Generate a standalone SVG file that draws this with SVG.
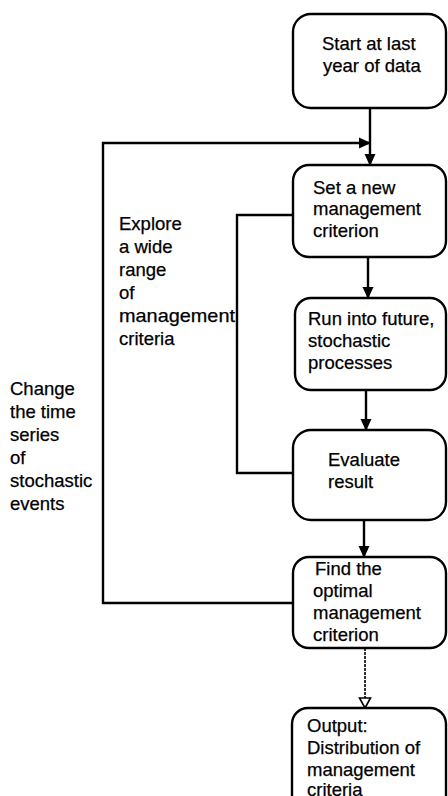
<svg xmlns="http://www.w3.org/2000/svg" width="448" height="796" viewBox="0 0 448 796">
  <style>
    .box { fill: #fff; stroke: #000; stroke-width: 2.4; }
    .line { fill: none; stroke: #000; stroke-width: 2.4; }
    .thin { fill: none; stroke: #000; stroke-width: 1.6; stroke-dasharray: 3 1; }
    text { font-family: "Liberation Sans", Arial, sans-serif; font-size: 18.5px; fill: #000; stroke: #000; stroke-width: 0.25; }
  </style>
  <defs>
    <marker id="arrow" markerWidth="12" markerHeight="14" refX="11" refY="7" orient="auto" markerUnits="userSpaceOnUse">
      <path d="M0,1.5 L12,7 L0,12.5 Z" fill="#000"/>
    </marker>
    <marker id="arrowOpen" markerWidth="12" markerHeight="14" refX="11" refY="7" orient="auto" markerUnits="userSpaceOnUse">
      <path d="M1,1.5 L11,7 L1,12.5 Z" fill="#fff" stroke="#000" stroke-width="1.6"/>
    </marker>
  </defs>

  <!-- connectors -->
  <g id="connectors">
    <line class="line" x1="370" y1="108" x2="370" y2="165" marker-end="url(#arrow)"/>
    <polyline class="line" points="293,603 103,603 103,143 370,143" marker-end="url(#arrow)"/>
    <line class="line" x1="368" y1="257" x2="368" y2="298" marker-end="url(#arrow)"/>
    <line class="line" x1="366" y1="390" x2="366" y2="430" marker-end="url(#arrow)"/>
    <polyline class="line" points="293,473 237,473 237,215 293,215"/>
    <line class="line" x1="364" y1="520" x2="364" y2="557" marker-end="url(#arrow)"/>
    <line class="thin" x1="365" y1="648" x2="365" y2="708" marker-end="url(#arrowOpen)"/>
  </g>

  <!-- nodes -->
  <g id="start">
    <rect class="box" x="293" y="14" width="153" height="94" rx="18"/>
    <text x="322" y="50">Start at last</text>
    <text x="323" y="72">year of data</text>
  </g>

  <g id="set-criterion">
    <rect class="box" x="293" y="165" width="153" height="92" rx="16"/>
    <text x="313" y="194">Set a new</text>
    <text x="313" y="215">management</text>
    <text x="313" y="237">criterion</text>
  </g>

  <g id="run-future">
    <rect class="box" x="295" y="298" width="151" height="92" rx="16"/>
    <text x="308" y="325">Run into future,</text>
    <text x="308" y="347">stochastic</text>
    <text x="308" y="369">processes</text>
  </g>

  <g id="evaluate">
    <rect class="box" x="293" y="430" width="153" height="90" rx="18"/>
    <text x="328" y="466">Evaluate</text>
    <text x="328" y="488">result</text>
  </g>

  <g id="find-optimal">
    <rect class="box" x="293" y="557" width="153" height="91" rx="16"/>
    <text x="315" y="575">Find the</text>
    <text x="313" y="597">optimal</text>
    <text x="313" y="619">management</text>
    <text x="313" y="641">criterion</text>
  </g>

  <g id="output">
    <rect class="box" x="292" y="708" width="154" height="110" rx="16"/>
    <text x="307" y="732">Output:</text>
    <text x="307" y="754">Distribution of</text>
    <text x="307" y="776">management</text>
    <text x="307" y="796">criteria</text>
  </g>

  <g id="label-explore">
    <text x="119" y="230">Explore</text>
    <text x="119" y="253">a wide</text>
    <text x="119" y="276">range</text>
    <text x="119" y="299">of</text>
    <text x="119" y="322" textLength="116" lengthAdjust="spacingAndGlyphs">management</text>
    <text x="119" y="345">criteria</text>
  </g>

  <g id="label-change">
    <text x="10" y="395">Change</text>
    <text x="10" y="418">the time</text>
    <text x="10" y="441">series</text>
    <text x="10" y="464">of</text>
    <text x="10" y="487">stochastic</text>
    <text x="10" y="510">events</text>
  </g>
</svg>
